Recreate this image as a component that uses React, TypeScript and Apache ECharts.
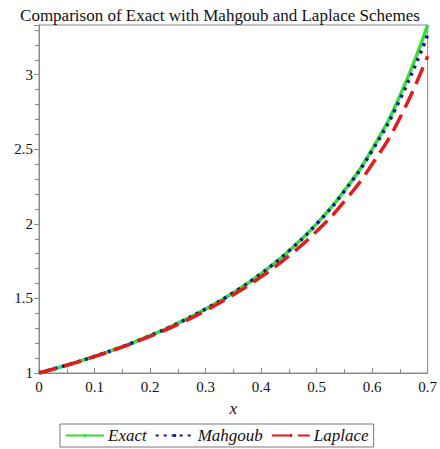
import React, { useEffect, useRef } from "react";
import * as echarts from "echarts";

const xValues = [0, 0.05, 0.1, 0.15, 0.2, 0.25, 0.3, 0.35, 0.4, 0.45, 0.5, 0.55, 0.6, 0.65, 0.7];
const exactValues = [1, 1.0526, 1.1111, 1.1765, 1.25, 1.3333, 1.4286, 1.5385, 1.6667, 1.8182, 2.0, 2.2222, 2.5, 2.8571, 3.3333];
const mahgoubValues = [1, 1.0526, 1.1111, 1.1765, 1.25, 1.3333, 1.4286, 1.5385, 1.6666, 1.8179, 1.999, 2.2191, 2.4909, 2.8321, 3.2674];
const laplaceValues = [1, 1.052, 1.11, 1.174, 1.246, 1.326, 1.418, 1.525, 1.645, 1.785, 1.95, 2.15, 2.4, 2.71, 3.125];
const seriesNames = ["Exact", "Mahgoub", "Laplace"];
const titleText = "Comparison of Exact with Mahgoub and Laplace Schemes";

const SERIF = '"Liberation Serif", "Times New Roman", "DejaVu Serif", serif';

export default function App() {
  const ref = useRef<HTMLDivElement>(null);
  useEffect(() => {
    if (!ref.current) return;
    const chart = echarts.init(ref.current, undefined, { renderer: "svg" });
    const pair = (ys: number[]) => xValues.map((x, i) => [x, ys[i]]);
    chart.setOption({
      animation: false,
      backgroundColor: "#ffffff",
      title: {
        text: titleText,
        left: "center",
        top: 2,
        textStyle: { fontFamily: SERIF, fontSize: 17, fontWeight: "normal", color: "#111" },
      },
      grid: {
        left: 39,
        right: 7,
        top: 25,
        bottom: 76,
        show: true,
        borderColor: "#8a8a8a",
        borderWidth: 1,
      },
      legend: {
        data: seriesNames,
        left: 60,
        top: 424,
        itemWidth: 38,
        itemHeight: 4,
        itemGap: 8,
        padding: [3, 5, 3, 5],
        borderColor: "#777",
        borderWidth: 1,
        textStyle: { fontFamily: SERIF, fontSize: 17, fontStyle: "italic", color: "#111", padding: [0, 0, 0, -1] },
      },
      xAxis: {
        type: "value",
        min: 0,
        max: 0.7,
        interval: 0.1,
        name: "x",
        nameLocation: "middle",
        nameGap: 27,
        nameTextStyle: { fontFamily: SERIF, fontSize: 17, fontStyle: "italic", color: "#111" },
        axisLine: { show: true, lineStyle: { color: "#8a8a8a" } },
        axisTick: { show: true, inside: true, length: 5, lineStyle: { color: "#8a8a8a" } },
        minorTick: { show: true, splitNumber: 2, length: 4, lineStyle: { color: "#8a8a8a" } },
        splitLine: { show: false },
        axisLabel: { fontFamily: SERIF, fontSize: 15, color: "#111", margin: 6 },
      },
      yAxis: {
        type: "value",
        min: 1,
        max: 3.3333,
        interval: 0.5,
        axisLine: { show: true, lineStyle: { color: "#8a8a8a" } },
        axisTick: { show: true, length: 5, lineStyle: { color: "#8a8a8a" } },
        minorTick: { show: true, splitNumber: 5, length: 4, lineStyle: { color: "#8a8a8a" } },
        splitLine: { show: false },
        axisLabel: { fontFamily: SERIF, fontSize: 15, color: "#111", margin: 6, showMaxLabel: false },
      },
      series: [
        {
          name: seriesNames[0],
          type: "line",
          data: pair(exactValues),
          smooth: true,
          symbol: "none",
          lineStyle: { color: "#33e033", width: 3.5, type: "solid" },
          itemStyle: { color: "#33e033" },
          z: 2,
        },
        {
          name: seriesNames[1],
          type: "line",
          data: pair(mahgoubValues),
          smooth: true,
          symbol: "none",
          lineStyle: { color: "#0a1a9a", width: 3.5, type: [3, 5] },
          itemStyle: { color: "#0a1a9a" },
          z: 3,
        },
        {
          name: seriesNames[2],
          type: "line",
          data: pair(laplaceValues),
          smooth: true,
          symbol: "none",
          lineStyle: { color: "#e21b1b", width: 3.5, type: [18, 8] },
          itemStyle: { color: "#e21b1b" },
          z: 4,
        },
      ],
    });
    return () => chart.dispose();
  }, []);
  return (
    <div
      ref={ref}
      style={{ position: "fixed", left: 0, top: 0, width: 440, height: 449, background: "#fff" }}
    />
  );
}
